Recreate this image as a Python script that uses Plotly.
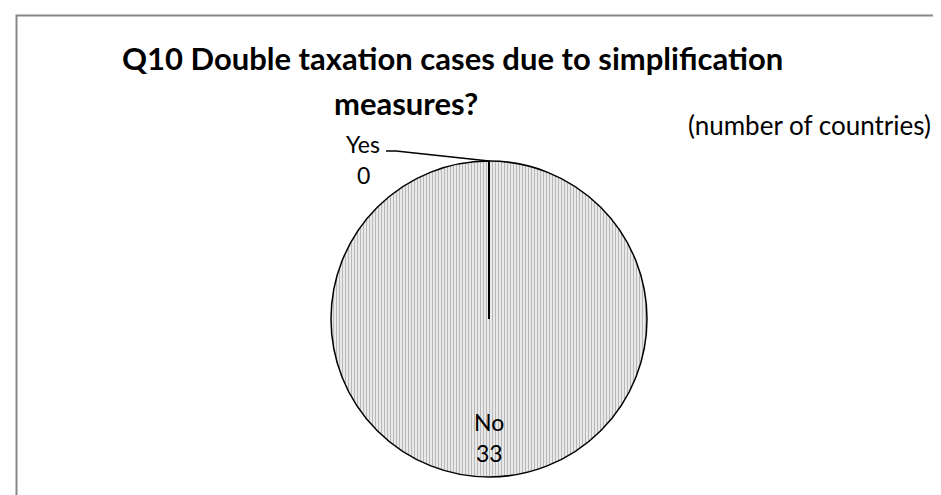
import math
import plotly.graph_objects as go

labels = ["Yes", "No"]
values = [0, 33]
title_lines = ["Q10 Double taxation cases due to simplification", "measures?"]
subtitle = "(number of countries)"

W, H = 941, 495
def px(x):
    return x / W
def py(y):
    return 1 - y / H

CX, CY, R = 481, 311, 158

fig = go.Figure()
fig.add_trace(go.Pie(
    labels=labels, values=values, sort=False, direction="clockwise", rotation=0,
    textinfo="none", hoverinfo="label+value", showlegend=False,
    marker=dict(colors=["#f2f2f2", "#f2f2f2"],
                line=dict(color="black", width=1.5),
                pattern=dict(shape="|", size=3, solidity=0.45,
                             fgcolor="#b8b8b8", bgcolor="#f4f4f4")),
    domain=dict(x=[px(CX - R), px(CX + R)], y=[py(CY + R), py(CY - R)]),
))

font = "Lato, Calibri, sans-serif"
ann = []
ann.append(dict(text="<b>" + title_lines[0] + "</b>", x=px(444), y=py(50), xref="paper", yref="paper",
                showarrow=False, font=dict(family=font, size=31, color="black"), xanchor="center", yanchor="middle"))
ann.append(dict(text="<b>" + title_lines[1] + "</b>", x=px(398), y=py(95), xref="paper", yref="paper",
                showarrow=False, font=dict(family=font, size=31, color="black"), xanchor="center", yanchor="middle"))
ann.append(dict(text=subtitle, x=px(678), y=py(117), xref="paper", yref="paper",
                showarrow=False, font=dict(family=font, size=26, color="black"), xanchor="left", yanchor="middle"))
# slice labels from data
label_pos = {"Yes": (355, 136, 167), "No": (481, 414, 445)}
for lab, val in zip(labels, values):
    x, y1, y2 = label_pos[lab]
    ann.append(dict(text=lab, x=px(x), y=py(y1), xref="paper", yref="paper", showarrow=False,
                    font=dict(family=font, size=23, color="black"), xanchor="center", yanchor="middle"))
    ann.append(dict(text=str(val), x=px(x), y=py(y2), xref="paper", yref="paper", showarrow=False,
                    font=dict(family=font, size=23, color="black"), xanchor="center", yanchor="middle"))

shapes = [
    dict(type="rect", xref="paper", yref="paper", x0=px(8.5), x1=1.05, y0=-0.05, y1=py(7.5),
         line=dict(color="#888888", width=2), fillcolor="rgba(0,0,0,0)"),
    dict(type="path", xref="paper", yref="paper",
         path=f"M {px(378)},{py(143)} L {px(388)},{py(143)} L {px(CX)},{py(CY - R)}",
         line=dict(color="black", width=1.5)),
]
# boundary of the zero-value slice (radial edge), angle from cumulative data
total = sum(values)
cum = 0
for v in values:
    if v == 0:
        ang = math.radians(360 * cum / total)
        ex = CX + R * math.sin(ang)
        ey = CY - R * math.cos(ang)
        shapes.append(dict(type="line", xref="paper", yref="paper",
                           x0=px(CX), y0=py(CY), x1=px(ex), y1=py(ey),
                           line=dict(color="black", width=2)))
    cum += v

fig.update_layout(
    width=W, height=H, margin=dict(l=0, r=0, t=0, b=0),
    paper_bgcolor="white", plot_bgcolor="white",
    annotations=ann, shapes=shapes,
)
fig.write_html("out.html")
